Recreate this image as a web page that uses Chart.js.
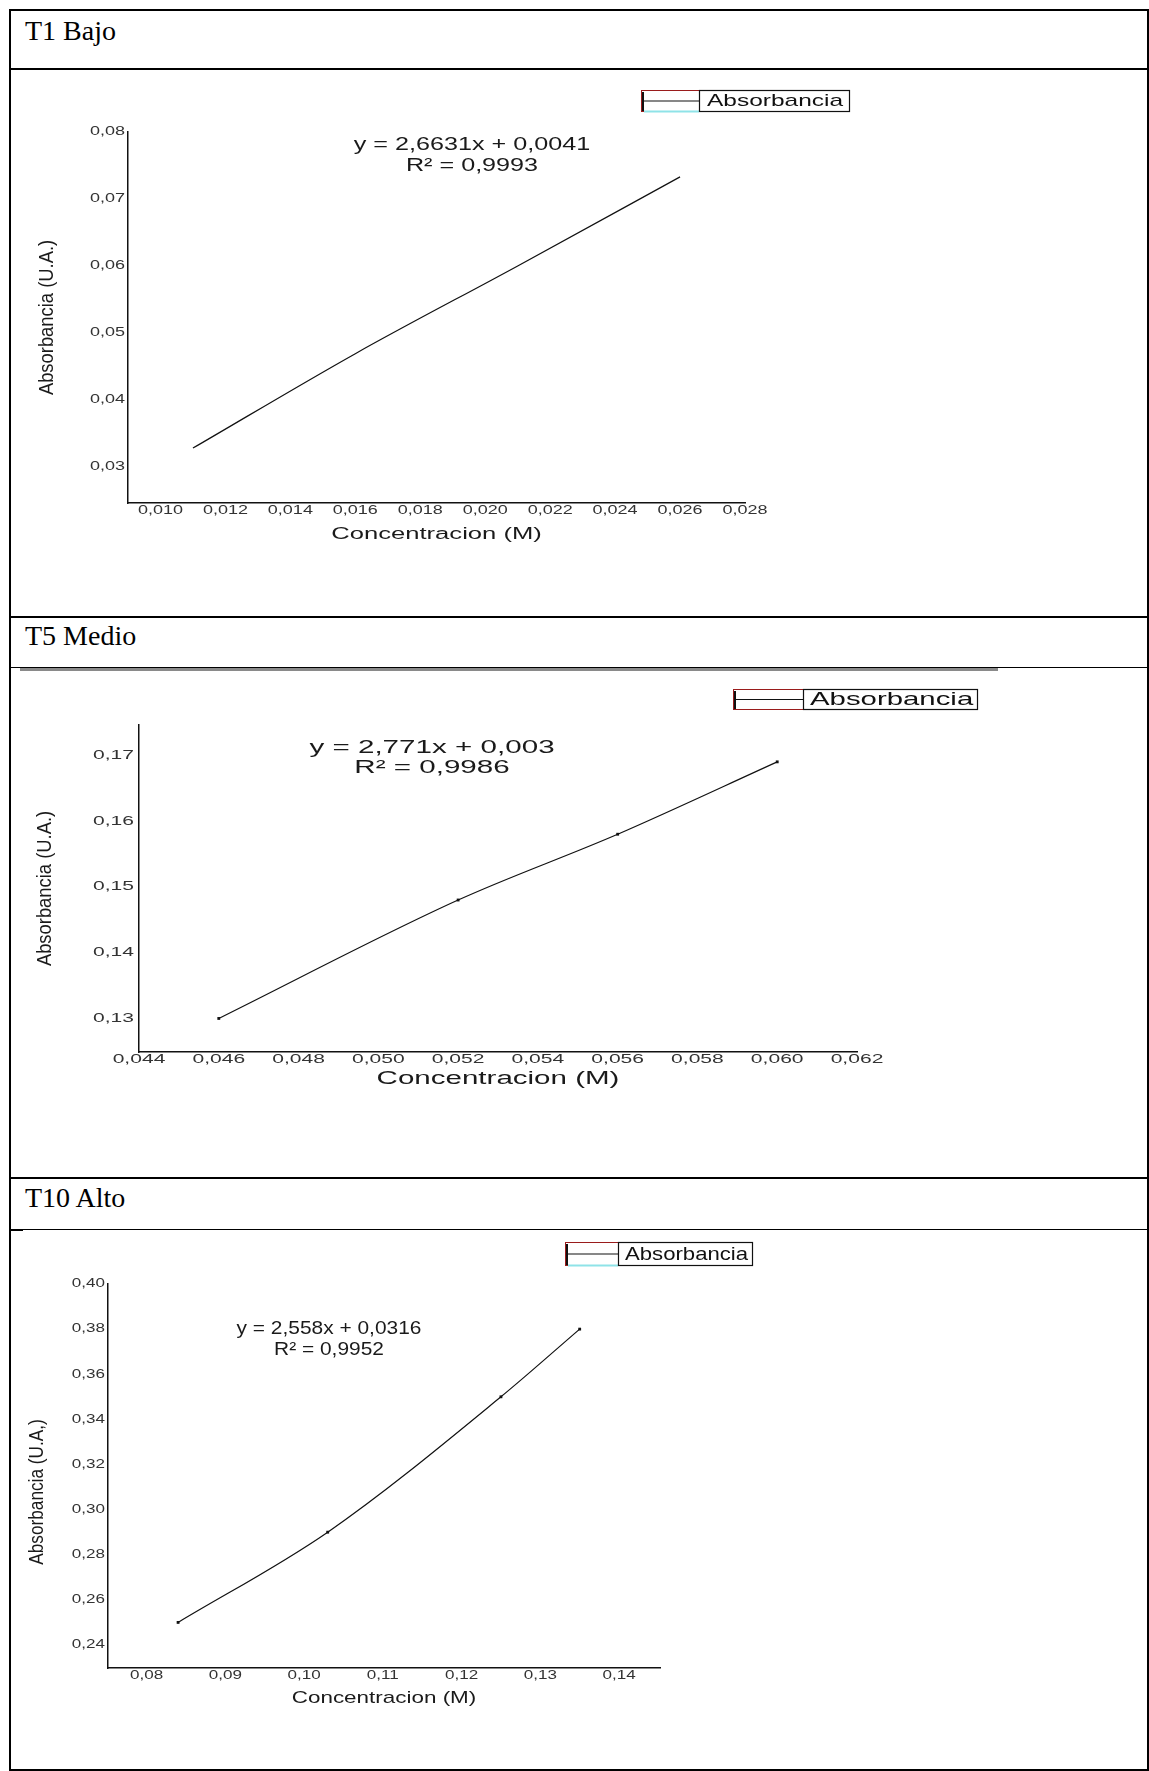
<!DOCTYPE html>
<html>
<head>
<meta charset="utf-8">
<script src="https://cdn.jsdelivr.net/npm/chart.js@4.4.1/dist/chart.umd.min.js"></script>
<style>
html,body{margin:0;padding:0;background:#fff;}
body{width:1149px;height:1771px;position:relative;overflow:hidden;}
.hl{position:absolute;background:#000;}
.ttl{position:absolute;left:25px;font-family:"Liberation Serif","Times New Roman",serif;font-size:28px;line-height:28px;color:#000;white-space:nowrap;}
canvas{position:absolute;left:0;}
</style>
</head>
<body>
<canvas id="c1" width="1149" height="546" style="top:70px;width:1149px;height:546px"></canvas>
<canvas id="c2" width="1149" height="507" style="top:670px;width:1149px;height:507px"></canvas>
<canvas id="c3" width="1149" height="538" style="top:1231px;width:1149px;height:538px"></canvas>

<div class="ttl" style="top:17px">T1 Bajo</div>
<div class="ttl" style="top:622px">T5 Medio</div>
<div class="ttl" style="top:1184px">T10 Alto</div>

<!-- table borders -->
<div class="hl" style="left:9px;top:9px;width:2px;height:1762px"></div>
<div class="hl" style="left:1147px;top:9px;width:2px;height:1762px"></div>
<div class="hl" style="left:9px;top:9px;width:1140px;height:2px"></div>
<div class="hl" style="left:9px;top:68px;width:1140px;height:2px"></div>
<div class="hl" style="left:9px;top:616px;width:1140px;height:2px"></div>
<div class="hl" style="left:9px;top:667px;width:1140px;height:1px"></div>
<div class="hl" style="left:20px;top:668px;width:978px;height:3px;background:#8a8a8a"></div>
<div class="hl" style="left:9px;top:1177px;width:1140px;height:2px"></div>
<div class="hl" style="left:9px;top:1229px;width:1140px;height:1px"></div>
<div class="hl" style="left:9px;top:1229px;width:14px;height:2px"></div>
<div class="hl" style="left:9px;top:1769px;width:1140px;height:2px"></div>

<script>
// ---------------- data ----------------
const seriesLabel = 'Absorbancia';
const xTitle = 'Concentracion (M)';

const t1Conc = [0.011, 0.016, 0.021, 0.026];
const t1Abs  = [0.0328, 0.0469, 0.0600, 0.0733];
const t1XTicks = [0.010, 0.012, 0.014, 0.016, 0.018, 0.020, 0.022, 0.024, 0.026, 0.028];
const t1YTicks = [0.03, 0.04, 0.05, 0.06, 0.07, 0.08];
const t1Eq = ['y = 2,6631x + 0,0041', 'R\u00B2 = 0,9993'];
const t1YTitle = 'Absorbancia (U.A.)';

const t5Conc = [0.046, 0.052, 0.056, 0.060];
const t5Abs  = [0.130, 0.148, 0.158, 0.169];
const t5XTicks = [0.044, 0.046, 0.048, 0.050, 0.052, 0.054, 0.056, 0.058, 0.060, 0.062];
const t5YTicks = [0.13, 0.14, 0.15, 0.16, 0.17];
const t5Eq = ['y = 2,771x + 0,003', 'R\u00B2 = 0,9986'];
const t5YTitle = 'Absorbancia (U.A.)';

const t10Conc = [0.084, 0.103, 0.125, 0.135];
const t10Abs  = [0.25, 0.29, 0.35, 0.38];
const t10XTicks = [0.08, 0.09, 0.10, 0.11, 0.12, 0.13, 0.14];
const t10YTicks = [0.24, 0.26, 0.28, 0.30, 0.32, 0.34, 0.36, 0.38, 0.40];
const t10Eq = ['y = 2,558x + 0,0316', 'R\u00B2 = 0,9952'];
const t10YTitle = 'Absorbancia (U.A,)';

// ---------------- helpers ----------------
const SANS = '"Liberation Sans", Arial, sans-serif';

// draw text of a scale with a horizontal stretch (the original picture was stretched)
function stretch(labelSX, titleSX, titleDX) {
  return function (scale) {
    if (scale.$st) return;
    scale.$st = true;
    const wrap = (fn, sx, dx) => function () {
      const c = this.ctx;
      const ft = CanvasRenderingContext2D.prototype.fillText;
      c.fillText = function (t, x, y) {
        this.save(); this.translate(x + dx, y); this.scale(sx, 1); ft.call(this, t, 0, 0); this.restore();
      };
      try { fn.apply(this, arguments); } finally { delete c.fillText; }
    };
    scale.drawLabels = wrap(scale.drawLabels, labelSX, 0);
    scale.drawTitle = wrap(scale.drawTitle, titleSX, titleDX || 0);
  };
}

function fmt(dec) { return (v) => Number(v).toFixed(dec).replace('.', ','); }

function stretchedText(c, text, x, y, sx) {
  c.save(); c.translate(x, y); c.scale(sx, 1); c.fillText(text, 0, 0); c.restore();
}

const notesPlugin = {
  id: 'notes',
  afterDraw(chart, args, o) {
    const c = chart.ctx, T = o.top;
    c.save();
    // trend equation
    c.fillStyle = '#1a1a1a';
    c.textAlign = 'center';
    c.textBaseline = 'middle';
    c.font = o.eqFont + 'px ' + SANS;
    o.eq.forEach((t, i) => stretchedText(c, t, o.eqX, o.eqY[i] - T, o.eqSX));
    // legend
    const L = o.legend;
    const x = L.x, y = L.y - T, sw = L.sw, h = L.h;
    c.lineWidth = 1;
    c.strokeStyle = '#9a1c1c';
    c.strokeRect(x + 0.5, y + 0.5, sw, h);
    if (L.cyan) {
      c.strokeStyle = '#8fe3e8';
      c.lineWidth = 2;
      c.beginPath(); c.moveTo(x + 3, y + h + 0.5); c.lineTo(x + sw, y + h + 0.5); c.stroke();
    }
    c.strokeStyle = '#111';
    c.lineWidth = 2;
    c.beginPath(); c.moveTo(x + 2, y + 2); c.lineTo(x + 2, y + h); c.stroke();
    c.lineWidth = 1.2;
    c.beginPath(); c.moveTo(x + 2, y + h / 2 + 0.5); c.lineTo(x + sw, y + h / 2 + 0.5); c.stroke();
    c.strokeRect(x + sw + 0.5, y + 0.5, L.right - x - sw, h);
    c.fillStyle = '#111';
    c.textAlign = 'left';
    c.font = L.font + 'px ' + SANS;
    stretchedText(c, chart.data.datasets[0].label, L.textX, y + h / 2 + 1, L.sx);
    c.restore();
  }
};

function makeChart(id, cfg) {
  const pts = cfg.xs.map((v, i) => ({ x: v, y: cfg.ys[i] }));
  return new Chart(document.getElementById(id), {
    type: 'line',
    data: {
      datasets: [{
        label: seriesLabel,
        data: pts,
        borderColor: '#111',
        backgroundColor: '#111',
        borderWidth: 1.2,
        pointStyle: 'rect',
        pointRadius: cfg.pointR,
        pointBorderWidth: 0,
        cubicInterpolationMode: 'monotone',
        fill: false
      }]
    },
    options: {
      responsive: false,
      animation: false,
      events: [],
      layout: { padding: { left: 0, top: cfg.padTop, right: cfg.padRight, bottom: 0 } },
      plugins: {
        legend: { display: false },
        tooltip: { enabled: false },
        notes: cfg.notes
      },
      scales: {
        x: {
          type: 'linear',
          position: 'bottom',
          min: cfg.xMin, max: cfg.xMax,
          afterBuildTicks: (s) => { s.ticks = cfg.xTicks.map(v => ({ value: v })); },
          afterFit: (s) => { s.height = cfg.xH; },
          afterUpdate: stretch(cfg.tickSX, cfg.xTitleSX, 0),
          grid: { display: false, drawTicks: false },
          border: { display: true, color: '#111', width: 1.5 },
          ticks: {
            autoSkip: false, maxRotation: 0, minRotation: 0,
            padding: 0,
            color: '#333',
            font: { family: SANS, size: cfg.tickFont },
            callback: fmt(cfg.xDec)
          },
          title: {
            display: true, text: xTitle, color: '#1a1a1a',
            font: { family: SANS, size: cfg.xTitleFont },
            padding: { top: 0, bottom: cfg.xTitlePad }
          }
        },
        y: {
          type: 'linear',
          min: cfg.yMin, max: cfg.yMax,
          afterBuildTicks: (s) => { s.ticks = cfg.yTicks.map(v => ({ value: v })); },
          afterFit: (s) => { s.width = cfg.yW; },
          afterUpdate: stretch(cfg.tickSX, cfg.yTitleSX, cfg.yTitleDX),
          grid: { display: false, drawTicks: false },
          border: { display: true, color: '#111', width: 1.5 },
          ticks: {
            autoSkip: false, padding: cfg.yTickPad,
            color: '#333',
            font: { family: SANS, size: cfg.tickFont },
            callback: fmt(cfg.yDec)
          },
          title: {
            display: true, text: cfg.yTitle, color: '#1a1a1a',
            font: { family: SANS, size: 21 },
            padding: { top: cfg.yTitlePad, bottom: 0 }
          }
        }
      }
    },
    plugins: [notesPlugin]
  });
}

makeChart('c1', {
  xs: t1Conc, ys: t1Abs, xTicks: t1XTicks, yTicks: t1YTicks, yTitle: t1YTitle,
  xMin: 0.009, xMax: 0.028, yMin: 0.0246, yMax: 0.08, xDec: 3, yDec: 2,
  pointR: 0,
  padTop: 62, padRight: 404, yW: 128, xH: 113,
  tickFont: 12, tickSX: 1.5, yTickPad: 3,
  xTitleFont: 16, xTitleSX: 1.6, xTitlePad: 72,
  yTitleSX: 0.875, yTitleDX: 0, yTitlePad: 35,
  notes: {
    top: 70, eq: t1Eq, eqX: 472, eqY: [144.6, 166], eqFont: 18.5, eqSX: 1.36,
    legend: { x: 641, y: 90, sw: 58, h: 21, right: 849, textX: 707, font: 17, sx: 1.44, cyan: true }
  }
});

makeChart('c2', {
  xs: t5Conc, ys: t5Abs, xTicks: t5XTicks, yTicks: t5YTicks, yTitle: t5YTitle,
  xMin: 0.044, xMax: 0.062, yMin: 0.1249, yMax: 0.1746, xDec: 3, yDec: 2,
  pointR: 2,
  padTop: 55, padRight: 292, yW: 139, xH: 125,
  tickFont: 13, tickSX: 1.62, yTickPad: 5,
  xTitleFont: 18, xTitleSX: 1.64, xTitlePad: 87,
  yTitleSX: 0.875, yTitleDX: 0, yTitlePad: 32.4,
  notes: {
    top: 670, eq: t5Eq, eqX: 432, eqY: [748, 768], eqFont: 18.5, eqSX: 1.6,
    legend: { x: 733, y: 689, sw: 70, h: 20, right: 977, textX: 810, font: 17.7, sx: 1.66, cyan: false }
  }
});

makeChart('c3', {
  xs: t10Conc, ys: t10Abs, xTicks: t10XTicks, yTicks: t10YTicks, yTitle: t10YTitle,
  xMin: 0.0751, xMax: 0.1452, yMin: 0.2298, yMax: 0.40, xDec: 2, yDec: 2,
  pointR: 2,
  padTop: 53, padRight: 489, yW: 108, xH: 101,
  tickFont: 12, tickSX: 1.42, yTickPad: 3,
  xTitleFont: 17, xTitleSX: 1.32, xTitlePad: 60,
  yTitleSX: 0.82, yTitleDX: -16, yTitlePad: 24.6,
  notes: {
    top: 1231, eq: t10Eq, eqX: 329, eqY: [1328.6, 1350], eqFont: 18.5, eqSX: 1.13,
    legend: { x: 565, y: 1242, sw: 53, h: 23, right: 752, textX: 625, font: 19, sx: 1.165, cyan: true }
  }
});
</script>
</body>
</html>
